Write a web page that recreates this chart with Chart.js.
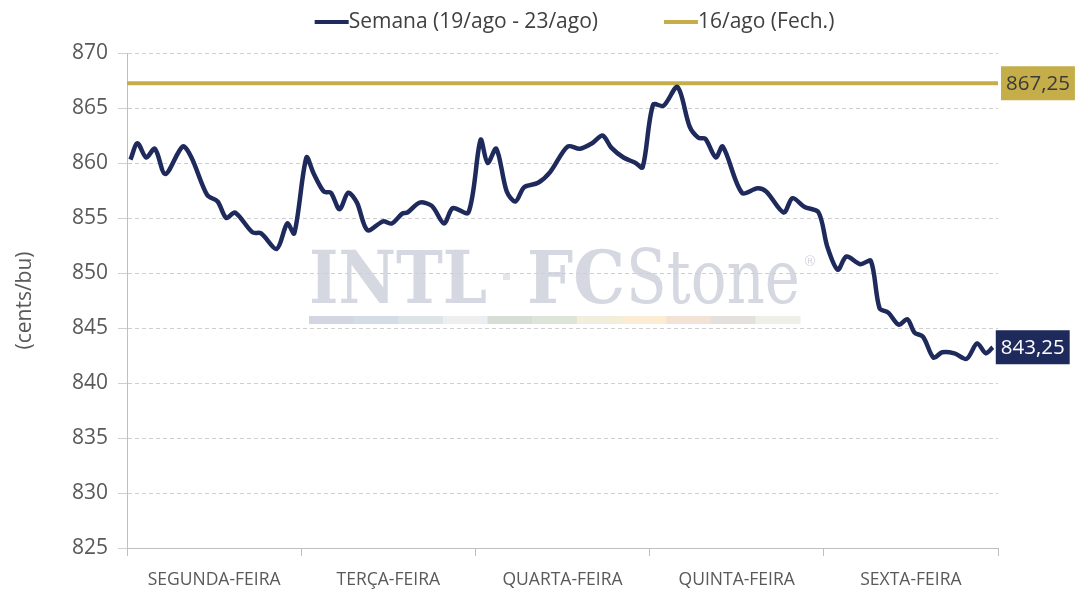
<!DOCTYPE html>
<html>
<head>
    <meta charset="utf-8" />
    <title>Semana (19/ago - 23/ago)</title>
    <script src="https://cdn.jsdelivr.net/npm/chart.js"></script>
    <style>
        html, body { margin: 0; padding: 0; background: #fff; }
        #wrap { width: 1080px; height: 589px; }
    </style>
</head>
<body>
    <div id="wrap"><canvas id="grafico"></canvas></div>

    <script>
        // dias da semana (eixo x)
        const dias = ['SEGUNDA-FEIRA', 'TERÇA-FEIRA', 'QUARTA-FEIRA', 'QUINTA-FEIRA', 'SEXTA-FEIRA'];

        // momento de cada cotação, em dias desde a abertura de segunda
        const tempo = [0.02, 0.06, 0.11, 0.16, 0.22, 0.32, 0.37, 0.46, 0.52, 0.57, 0.62, 0.72, 0.77, 0.86, 0.92, 0.96,
            1.03, 1.07, 1.13, 1.17, 1.22, 1.27, 1.32, 1.38, 1.47, 1.52, 1.58, 1.61, 1.68, 1.75, 1.82, 1.87, 1.96,
            2.03, 2.07, 2.12, 2.18, 2.23, 2.28, 2.36, 2.43, 2.53, 2.60, 2.67, 2.73, 2.78, 2.85, 2.92, 2.96,
            3.02, 3.08, 3.16, 3.23, 3.28, 3.32, 3.38, 3.42, 3.53, 3.62, 3.67, 3.77, 3.82, 3.89, 3.97,
            4.02, 4.08, 4.13, 4.21, 4.27, 4.32, 4.37, 4.43, 4.48, 4.52, 4.57, 4.63, 4.68, 4.75, 4.82, 4.88, 4.93, 4.97];

        // cotações da semana (cents/bu)
        const semana = [860.3, 861.8, 860.5, 861.3, 859.0, 861.5, 860.5, 857.1, 856.5, 855.0, 855.5, 853.7, 853.6, 852.2, 854.5, 853.6,
            860.5, 859.1, 857.4, 857.3, 855.8, 857.3, 856.4, 853.9, 854.7, 854.5, 855.4, 855.5, 856.4, 856.1, 854.5, 855.9, 855.5,
            862.1, 860.0, 861.3, 857.4, 856.5, 857.8, 858.2, 859.2, 861.5, 861.3, 861.8, 862.5, 861.4, 860.5, 860.0, 859.6,
            865.3, 865.2, 866.9, 863.3, 862.3, 862.2, 860.5, 861.5, 857.3, 857.7, 857.4, 855.5, 856.8, 856.0, 855.5,
            852.4, 850.3, 851.5, 850.8, 851.1, 846.8, 846.4, 845.3, 845.8, 844.6, 844.2, 842.3, 842.8, 842.7, 842.2, 843.6, 842.7, 843.25];

        // fechamento de 16/ago
        const fechamento = 867.25;

        // eixo y
        const yMin = 825, yMax = 870, yPasso = 5;

        const NAVY = '#1f2a5c';
        const GOLD = '#c5ae4a';
        const CINZA = '#595959';

        const marcaDagua = {
            id: 'marcaDagua',
            beforeDraw(chart) {
                const ctx = chart.ctx;
                ctx.save();
                ctx.fillStyle = '#d5d8e1';
                ctx.textBaseline = 'alphabetic';
                function escreve(texto, fonte, x, base, largura) {
                    ctx.font = fonte;
                    const w = ctx.measureText(texto).width;
                    ctx.save();
                    ctx.translate(x, base);
                    ctx.scale(largura / w, 1);
                    ctx.fillText(texto, 0, 0);
                    ctx.restore();
                }
                escreve('INTL', 'bold 73px "DejaVu Serif"', 309, 303, 178);
                escreve('FC', 'bold 73px "DejaVu Serif"', 527, 303, 98);
                escreve('Stone', '74px "DejaVu Serif"', 626, 303, 174);
                ctx.fillStyle = '#e3e5ea';
                ctx.fillRect(503, 273, 7, 7);
                ctx.font = '14px "DejaVu Sans"';
                ctx.fillStyle = '#d5d8e1';
                ctx.fillText('®', 803, 266);
                const faixa = ['#d3d6e0', '#d4dce8', '#dde4e6', '#eceef0', '#d6ded6', '#dde4d8',
                    '#f1eedc', '#fbecd3', '#f3e3d5', '#e4e0de', '#eef0e8'];
                const fw = (800 - 309) / faixa.length;
                faixa.forEach((c, i) => {
                    ctx.fillStyle = c;
                    ctx.fillRect(309 + i * fw, 316, fw + 0.5, 8);
                });
                ctx.restore();
            }
        };

        const legenda = {
            id: 'legenda',
            afterDraw(chart) {
                const ctx = chart.ctx;
                ctx.save();
                ctx.font = '21px "Open Sans"';
                ctx.textBaseline = 'middle';
                const marca = 34, espaco = 66, y = 22;
                const itens = chart.data.datasets.map(ds => ({
                    texto: ds.label, cor: ds.borderColor, w: ctx.measureText(ds.label).width
                }));
                const total = itens.reduce((s, it) => s + marca + it.w, 0) + espaco * (itens.length - 1);
                let x = (chart.chartArea.left + chart.chartArea.right) / 2 - total / 2 + 12;
                itens.forEach(it => {
                    ctx.strokeStyle = it.cor;
                    ctx.lineWidth = 4;
                    ctx.beginPath();
                    ctx.moveTo(x, y);
                    ctx.lineTo(x + marca, y);
                    ctx.stroke();
                    ctx.fillStyle = '#404040';
                    ctx.fillText(it.texto, x + marca, y);
                    x += marca + it.w + espaco;
                });
                ctx.restore();
            }
        };

        const rotulosFinais = {
            id: 'rotulosFinais',
            afterDatasetsDraw(chart) {
                const ctx = chart.ctx;
                chart.data.datasets.forEach((ds, i) => {
                    const pts = chart.getDatasetMeta(i).data;
                    const p = pts[pts.length - 1];
                    const valor = ds.data[ds.data.length - 1].y;
                    const texto = valor.toFixed(2).replace('.', ',');
                    ctx.save();
                    ctx.font = '20.5px "Open Sans"';
                    const w = ctx.measureText(texto).width + 10;
                    const h = 34;
                    const x0 = p.x + 3;
                    ctx.fillStyle = ds.borderColor;
                    ctx.fillRect(x0, p.y - h / 2, w, h);
                    ctx.fillStyle = i === 0 ? '#ffffff' : '#3a3a3a';
                    ctx.textBaseline = 'middle';
                    ctx.fillText(texto, x0 + 5, p.y + 1);
                    ctx.restore();
                });
            }
        };

        const ctx = document.getElementById('grafico').getContext('2d');
        new Chart(ctx, {
            type: 'line',
            data: {
                datasets: [{
                    label: 'Semana (19/ago - 23/ago)',
                    data: tempo.map((t, i) => ({ x: t, y: semana[i] })),
                    borderColor: NAVY,
                    borderWidth: 4.5,
                    pointRadius: 0,
                    tension: 0.3,
                    xAxisID: 'x'
                }, {
                    label: '16/ago (Fech.)',
                    data: [{ x: 0, y: fechamento }, { x: dias.length, y: fechamento }],
                    borderColor: GOLD,
                    borderWidth: 4,
                    pointRadius: 0,
                    xAxisID: 'x'
                }]
            },
            options: {
                responsive: true,
                maintainAspectRatio: false,
                animation: false,
                layout: { padding: { top: 53, right: 82, left: 0, bottom: 0 } },
                plugins: {
                    legend: { display: false },
                    tooltip: { enabled: false }
                },
                scales: {
                    x: {
                        type: 'linear',
                        min: 0,
                        max: dias.length,
                        display: false
                    },
                    dias: {
                        type: 'category',
                        position: 'bottom',
                        labels: dias,
                        offset: true,
                        grid: {
                            offset: true,
                            drawOnChartArea: false,
                            tickLength: 8,
                            color: '#bfbfbf'
                        },
                        border: { color: '#bfbfbf', width: 1 },
                        ticks: {
                            color: CINZA,
                            padding: 14,
                            maxRotation: 0,
                            font: { family: '"Open Sans"', size: 17.5 }
                        },
                        afterFit(scale) { scale.height = 41; }
                    },
                    y: {
                        min: yMin,
                        max: yMax,
                        ticks: {
                            stepSize: yPasso,
                            color: CINZA,
                            padding: 10,
                            font: { family: '"Open Sans"', size: 21 }
                        },
                        grid: {
                            color: '#cfcfcf',
                            tickLength: 9,
                            lineWidth: 1
                        },
                        border: { color: '#bfbfbf', width: 1, dash: [4, 3] },
                        title: {
                            display: true,
                            text: '(cents/bu)',
                            color: CINZA,
                            padding: { top: 12, bottom: 0 },
                            font: { family: '"Open Sans"', size: 21 }
                        },
                        afterFit(scale) { scale.width = 127; }
                    }
                }
            },
            plugins: [marcaDagua, legenda, rotulosFinais]
        });
    </script>
</body>
</html>
